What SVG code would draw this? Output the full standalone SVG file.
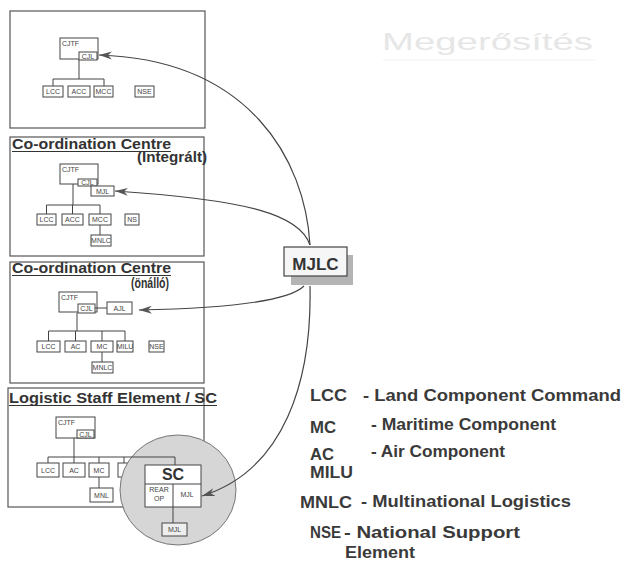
<svg xmlns="http://www.w3.org/2000/svg" width="623" height="561" viewBox="0 0 623 561">
<style>
.fr{fill:none;stroke:#555;stroke-width:1.2}
.bx{fill:#fff;stroke:#444;stroke-width:1}
.ln{fill:none;stroke:#444;stroke-width:1}
.t{font-family:"Liberation Sans",Arial,sans-serif;font-size:7px;fill:#444;text-anchor:middle}
.tl{font-family:"Liberation Sans",Arial,sans-serif;font-size:7px;fill:#444}
.ttl{font-family:"Liberation Sans",Arial,sans-serif;font-size:15px;font-weight:bold;fill:#333}
.lg{font-family:"Liberation Sans",Arial,sans-serif;font-size:16px;font-weight:bold;fill:#3a3a3a}
.cn{fill:none;stroke:#444;stroke-width:1.2}
</style>
<defs>
<marker id="ah" markerUnits="userSpaceOnUse" markerWidth="14" markerHeight="10" refX="13" refY="5" orient="auto">
<path d="M0,1 L13,5 L0,9 L4,5 z" fill="#555"/>
</marker>
</defs>
<rect width="623" height="561" fill="#fff"/>

<g id="title">
<text x="382" y="50" font-family="Liberation Sans,Arial,sans-serif" font-size="24" fill="#e6e6e6" textLength="211" lengthAdjust="spacingAndGlyphs">Megerősítés</text>
<line x1="383" y1="60" x2="595" y2="60" stroke="#f2f2f2" stroke-width="1"/>
</g>

<g id="panel1">
<rect class="fr" x="10" y="11" width="195" height="117"/>
<rect class="bx" x="60" y="38" width="38" height="21"/>
<text class="tl" x="62" y="46">CJTF</text>
<rect class="bx" x="79" y="52" width="18" height="8"/>
<text class="t" x="88" y="58.5" font-size="6">CJL</text>
<path class="ln" d="M79,60 V79 M53,79 H104 M53,79 V86 M104,79 V86"/>
<rect class="bx" x="43" y="86" width="20" height="11"/><text class="t" x="53" y="94">LCC</text>
<rect class="bx" x="68" y="86" width="22" height="11"/><text class="t" x="79" y="94">ACC</text>
<rect class="bx" x="94" y="86" width="19" height="11"/><text class="t" x="103.5" y="94">MCC</text>
<rect class="bx" x="135" y="86" width="19" height="11"/><text class="t" x="144.5" y="94">NSE</text>
</g>

<g id="panel2">
<rect class="fr" x="10" y="137" width="194" height="119"/>
<text class="ttl" x="12" y="149" textLength="159" lengthAdjust="spacingAndGlyphs">Co-ordination Centre</text>
<line x1="12" y1="151.5" x2="171" y2="151.5" stroke="#333" stroke-width="1"/>
<text class="ttl" x="137" y="162" textLength="70" lengthAdjust="spacingAndGlyphs">(Integrált)</text>
<rect class="bx" x="60" y="164" width="38" height="20"/>
<text class="tl" x="62" y="172">CJTF</text>
<rect class="bx" x="78" y="179" width="19" height="7"/>
<text class="t" x="87.5" y="185" font-size="6">CJL</text>
<rect class="bx" x="91" y="186" width="23" height="10"/>
<text class="t" x="102.5" y="193.5">MJL</text>
<path class="ln" d="M73,184 V205 M46.5,205 H100 M46.5,205 V214 M72.5,205 V214 M100,205 V214 M100,225 V235"/>
<rect class="bx" x="37" y="214" width="19" height="11"/><text class="t" x="46.5" y="222">LCC</text>
<rect class="bx" x="62" y="214" width="21" height="11"/><text class="t" x="72.5" y="222">ACC</text>
<rect class="bx" x="89" y="214" width="22" height="11"/><text class="t" x="100" y="222">MCC</text>
<rect class="bx" x="125" y="214" width="14" height="11"/><text class="t" x="132" y="222">NS</text>
<rect class="bx" x="91" y="235" width="20" height="11"/><text class="t" x="101" y="243">MNLC</text>
</g>

<g id="panel3">
<rect class="fr" x="10" y="262" width="194" height="121"/>
<text class="ttl" x="12" y="273" textLength="159" lengthAdjust="spacingAndGlyphs">Co-ordination Centre</text>
<line x1="12" y1="275.5" x2="171" y2="275.5" stroke="#333" stroke-width="1"/>
<text class="ttl" x="131" y="288" font-size="14" textLength="38" lengthAdjust="spacingAndGlyphs">(önálló)</text>
<rect class="bx" x="59" y="292" width="38" height="20"/>
<text class="tl" x="61" y="300">CJTF</text>
<rect class="bx" x="78" y="304" width="17" height="9"/>
<text class="t" x="86.5" y="311" font-size="6">CJL</text>
<line class="ln" x1="95" y1="308" x2="107" y2="308"/>
<rect class="bx" x="107" y="302" width="25" height="12"/>
<text class="t" x="119.5" y="310.5">AJL</text>
<path class="ln" d="M77,313 V331 M48.5,331 H125 M48.5,331 V341 M75.5,331 V341 M102,331 V341 M125,331 V341 M102,352 V362"/>
<rect class="bx" x="37" y="341" width="23" height="11"/><text class="t" x="48.5" y="349">LCC</text>
<rect class="bx" x="65" y="341" width="21" height="11"/><text class="t" x="75.5" y="349">AC</text>
<rect class="bx" x="91" y="341" width="22" height="11"/><text class="t" x="102" y="349">MC</text>
<rect class="bx" x="117" y="341" width="16" height="11"/><text class="t" x="125" y="349" font-size="6">MILU</text>
<rect class="bx" x="149" y="341" width="15" height="11"/><text class="t" x="156.5" y="349" font-size="6">NSE</text>
<rect class="bx" x="92" y="362" width="21" height="11"/><text class="t" x="102.5" y="370">MNLC</text>
</g>

<g id="panel4">
<rect class="fr" x="8" y="388" width="196" height="119"/>
<text class="ttl" x="9" y="403" textLength="208" lengthAdjust="spacingAndGlyphs">Logistic Staff  Element / SC</text>
<line x1="9" y1="405.5" x2="217" y2="405.5" stroke="#333" stroke-width="1"/>
<rect class="bx" x="56" y="417" width="39" height="21"/>
<text class="tl" x="58" y="425">CJTF</text>
<rect class="bx" x="77" y="430" width="17" height="8"/>
<text class="t" x="85.5" y="436.5" font-size="6">CJL</text>
<rect class="bx" x="37" y="463" width="22" height="14"/><text class="t" x="48" y="472.5">LCC</text>
<rect class="bx" x="63" y="463" width="22" height="14"/><text class="t" x="74" y="472.5">AC</text>
<rect class="bx" x="89" y="463" width="20" height="14"/><text class="t" x="99" y="472.5">MC</text>
<rect class="bx" x="118" y="463" width="20" height="14"/>
<rect class="bx" x="90" y="488" width="23" height="14"/><text class="t" x="101.5" y="497.5">MNL</text>
<path class="ln" d="M99,477 V488"/>
</g>

<g id="sc">
<ellipse cx="178" cy="490" rx="58" ry="55" fill="#d6d6d6" stroke="#777" stroke-width="1"/>
<path class="ln" d="M74,438 V457 M48,457 H175 M48,457 V463 M74,457 V463 M99,457 V463 M124,457 V463 M175,457 V465"/>
<rect class="bx" x="145" y="465" width="56" height="42" stroke="#333" stroke-width="1.2"/>
<text x="173" y="480" font-family="Liberation Sans,Arial,sans-serif" font-size="16" font-weight="bold" fill="#333" text-anchor="middle">SC</text>
<path class="ln" d="M145,484 H201 M173,484 V507 M173,507 V523"/>
<text class="t" x="159" y="492" font-size="6.5">REAR</text>
<text class="t" x="159" y="501" font-size="6.5">OP</text>
<text class="t" x="187" y="497" font-size="6.5">MJL</text>
<rect x="162" y="523" width="25" height="13" fill="#eee" stroke="#444" stroke-width="1"/>
<text class="t" x="174.5" y="532">MJL</text>
</g>

<g id="mjlc">
<rect x="291" y="255" width="62" height="30" fill="#b4b4b4"/>
<rect x="284" y="247" width="63" height="29" fill="#f6f6f6" stroke="#444" stroke-width="1.2"/>
<text x="315.5" y="270" font-family="Liberation Sans,Arial,sans-serif" font-size="17" font-weight="bold" fill="#333" text-anchor="middle">MJLC</text>
</g>

<g id="connectors">
<path class="cn" d="M310,245 C305,160 250,60 99,55" marker-end="url(#ah)"/>
<path class="cn" d="M310,245 C300,215 250,200 115,191" marker-end="url(#ah)"/>
<path class="cn" d="M304,286 C290,300 240,308 139,310" marker-end="url(#ah)"/>
<path class="cn" d="M310,286 C312,380 285,470 202,496" marker-end="url(#ah)"/>
</g>

<g id="legend">
<text class="lg" x="310" y="401" textLength="37" lengthAdjust="spacingAndGlyphs">LCC</text>
<text class="lg" x="363" y="401" textLength="258" lengthAdjust="spacingAndGlyphs">- Land Component Command</text>
<text class="lg" x="310" y="433" textLength="26" lengthAdjust="spacingAndGlyphs">MC</text>
<text class="lg" x="371" y="430" textLength="185" lengthAdjust="spacingAndGlyphs">- Maritime Component</text>
<text class="lg" x="310" y="460" textLength="24" lengthAdjust="spacingAndGlyphs">AC</text>
<text class="lg" x="371" y="457" textLength="134" lengthAdjust="spacingAndGlyphs">- Air Component</text>
<text class="lg" x="310" y="478" textLength="43" lengthAdjust="spacingAndGlyphs">MILU</text>
<text class="lg" x="300" y="508" textLength="52" lengthAdjust="spacingAndGlyphs">MNLC</text>
<text class="lg" x="361" y="507" textLength="210" lengthAdjust="spacingAndGlyphs">- Multinational Logistics</text>
<text class="lg" x="310" y="538" textLength="31" lengthAdjust="spacingAndGlyphs">NSE</text>
<text class="lg" x="344" y="538" textLength="176" lengthAdjust="spacingAndGlyphs">- National Support</text>
<text class="lg" x="345" y="558" textLength="70" lengthAdjust="spacingAndGlyphs">Element</text>
</g>
</svg>
